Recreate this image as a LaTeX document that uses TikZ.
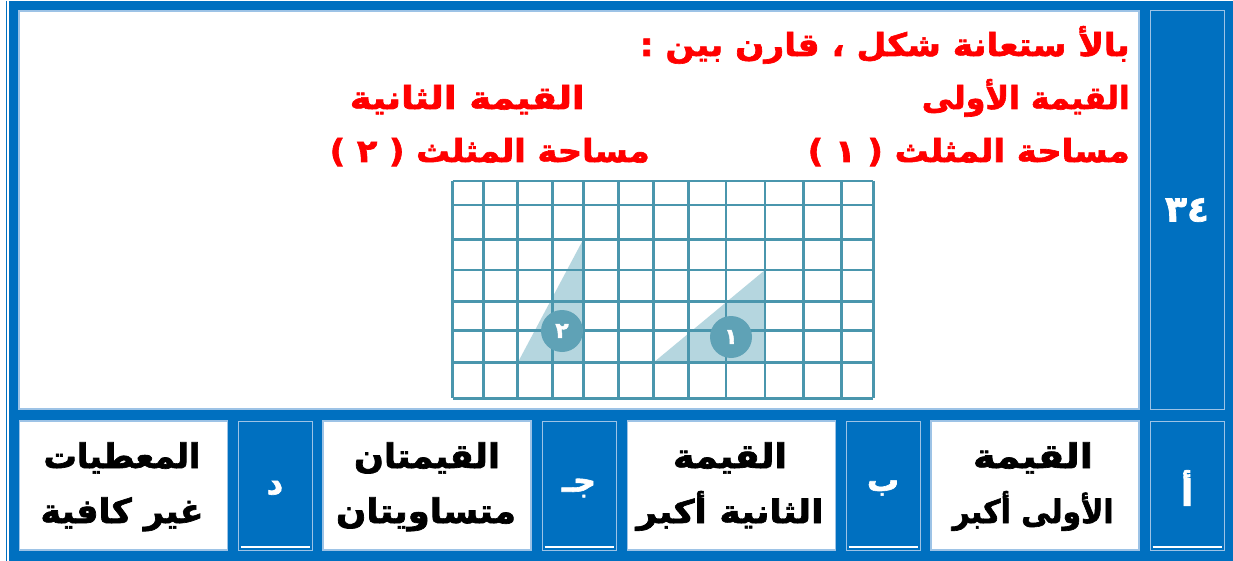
\documentclass[tikz,border=0pt]{standalone}
\usepackage{fontspec}
\usepackage{graphicx}
\newfontfamily\arabicfont[Script=Arabic, BoldFeatures={FakeBold=2}]{DejaVu Sans}
\TeXXeTstate=1
\definecolor{frameblue}{HTML}{0070C0}
\definecolor{edgeblue}{HTML}{9DC3E6}
\definecolor{gridteal}{HTML}{4A96AD}
\definecolor{trifill}{HTML}{A9CFDA}
\definecolor{circteal}{HTML}{5FA2B6}
\newcommand{\artxt}[3]{\resizebox{#1}{#2}{\arabicfont\bfseries\vphantom{لأ}#3}}
\tikzset{
  mainbox/.style={draw=edgeblue, line width=1.5pt, fill=white, inner sep=0pt},
  numbox/.style={draw=edgeblue, line width=1pt, fill=frameblue, inner sep=0pt},
  ansbox/.style={draw=edgeblue, line width=1.5pt, fill=white, inner sep=0pt, minimum width=208pt, minimum height=129pt},
  letbox/.style={numbox, minimum width=74pt, minimum height=129pt},
  redtxt/.style={text=red, inner sep=0pt, anchor=base east},
  blktxt/.style={text=black, inner sep=0pt, anchor=base},
  lettxt/.style={text=white, inner sep=0pt, font=\arabicfont\bfseries\fontsize{32}{32}\selectfont},
  gridline/.style={draw=gridteal, line width=2.8pt},
  tri/.style={fill=trifill, fill opacity=0.85},
  badge/.style={circle, fill=circteal, minimum size=42pt, inner sep=0pt, text=white, font=\arabicfont\bfseries\fontsize{22}{22}\selectfont},
  baseline/.style={draw=white, line width=2pt}
}
\begin{document}
\begin{tikzpicture}[x=1pt,y=-1pt]
\useasboundingbox (0,0) rectangle (1233,561);
\fill[white] (0,0) rectangle (1233,561);
\fill[frameblue] (9,1) rectangle (1233,561);
\draw[frameblue, line width=1pt] (6.5,1) -- (6.5,561);

% main white area and number box
\node[mainbox, minimum width=1120pt, minimum height=398pt] (main) at (579,210) {};
\node[numbox, minimum width=74pt, minimum height=398pt] (num) at (1187,210) {};
\node[lettxt, font=\arabicfont\bfseries\fontsize{36}{36}\selectfont] (numtxt) at (1187,210) {٣٤};

% question text
\node[redtxt] (q1) at (1130,56) {\artxt{490pt}{30pt}{\beginR بالأ ستعانة شكل ، قارن بين :\endR}};
\node[redtxt] (v1) at (1130,109) {\artxt{208pt}{30pt}{\beginR القيمة الأولى\endR}};
\node[redtxt] (v2) at (585,109) {\artxt{235pt}{30pt}{\beginR القيمة الثانية\endR}};
\node[redtxt] (s1) at (1130,162) {\artxt{322pt}{30pt}{) ١ ( \beginR مساحة المثلث\endR}};
\node[redtxt] (s2) at (650,162) {\artxt{320pt}{30pt}{) ٢ ( \beginR مساحة المثلث\endR}};

% triangles
\fill[tri] (517.7,362.7) -- (583.3,239.3) -- (583.3,362.7) -- cycle;
\fill[tri] (653.3,362.7) -- (765,270) -- (765,362.7) -- cycle;

% grid
\foreach \gx in {452.7,483.3,517.7,552.3,583.3,618.3,653.3,688.3,726,765,803.3,841.7,873.3}
  \draw[gridline] (\gx,181) -- (\gx,398.3);
\foreach \gy in {181,205,239.3,270,301.7,330.7,362.7,398.3}
  \draw[gridline] (452.7,\gy) -- (873.3,\gy);

% badges
\node[badge] (t2) at (562,331) {٢};
\node[badge] (t1) at (731,337) {١};

% answer row
\node[letbox] (la) at (1187,485.5) {};
\node[ansbox] (aa) at (1035,485.5) {};
\node[letbox] (lb) at (883,485.5) {};
\node[ansbox] (ab) at (731.5,485.5) {};
\node[letbox] (lc) at (579,485.5) {};
\node[ansbox] (ac) at (427,485.5) {};
\node[letbox] (ld) at (275,485.5) {};
\node[ansbox] (ad) at (123.5,485.5) {};
\foreach \b in {la,lb,lc,ld}
  \draw[baseline] ([xshift=3pt,yshift=4pt]\b.south west) -- ([xshift=-3pt,yshift=4pt]\b.south east);

\node[lettxt, font=\arabicfont\bfseries\fontsize{36}{36}\selectfont] (ta) at (1187,488) {\beginR أ\endR};
\node[lettxt] (tb) at (883,488) {\beginR ب\endR};
\node[lettxt] (tc) at (579,488) {\beginR جـ\endR};
\node[lettxt] (td) at (275,488) {\beginR د\endR};

\node[blktxt] (aa1) at (1033,468) {\artxt{120pt}{32pt}{\beginR القيمة\endR}};
\node[blktxt] (aa2) at (1033,523) {\artxt{161pt}{32pt}{\beginR الأولى أكبر\endR}};
\node[blktxt] (ab1) at (730,468) {\artxt{114pt}{32pt}{\beginR القيمة\endR}};
\node[blktxt] (ab2) at (730,523) {\artxt{187pt}{32pt}{\beginR الثانية أكبر\endR}};
\node[blktxt] (ac1) at (427,468) {\artxt{146pt}{32pt}{\beginR القيمتان\endR}};
\node[blktxt] (ac2) at (426,523) {\artxt{180pt}{32pt}{\beginR متساويتان\endR}};
\node[blktxt] (ad1) at (122,468) {\artxt{157pt}{32pt}{\beginR المعطيات\endR}};
\node[blktxt] (ad2) at (122,523) {\artxt{163pt}{32pt}{\beginR غير كافية\endR}};
\end{tikzpicture}
\end{document}
